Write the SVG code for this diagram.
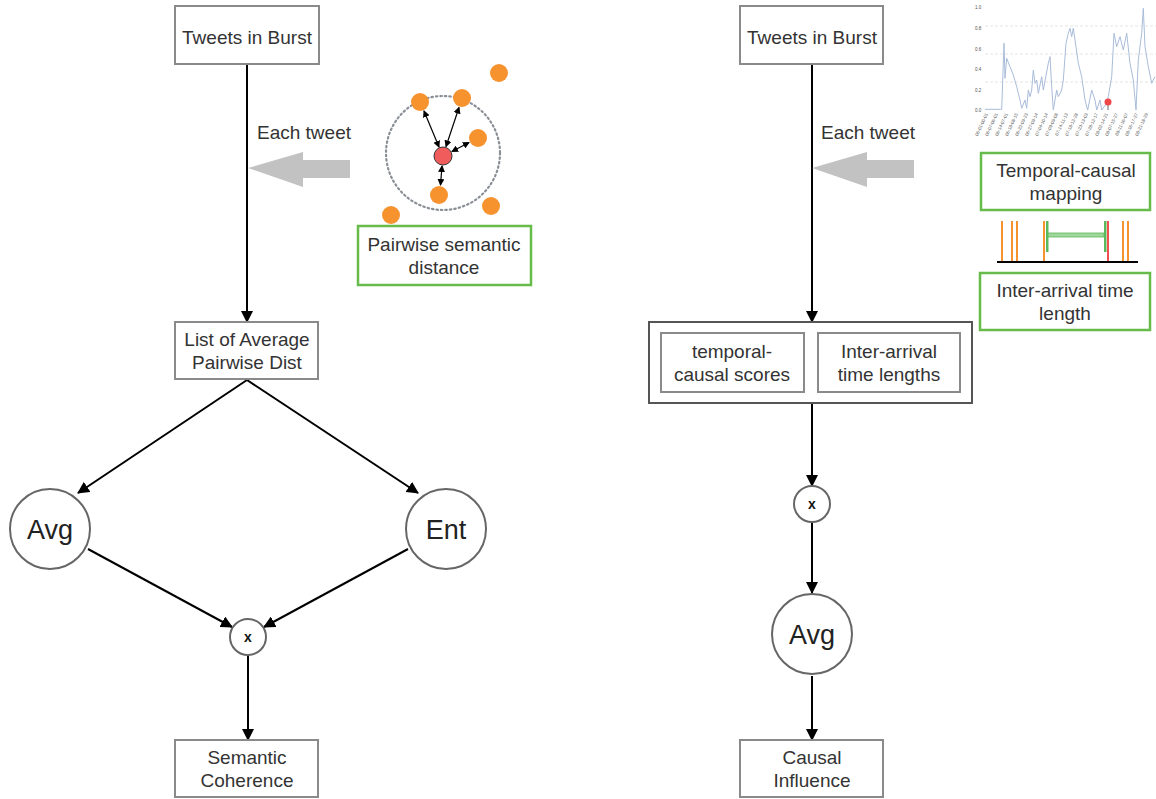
<svg xmlns="http://www.w3.org/2000/svg" width="1156" height="799" viewBox="0 0 1156 799">
<defs>
<style>
.t{font-family:"Liberation Sans",Arial,sans-serif;font-size:19px;fill:#333;text-anchor:middle}
.box{fill:#fff;stroke:#8a8a8a;stroke-width:2}
.gbox{fill:#fff;stroke:#66bb4a;stroke-width:2.5}
.circ{fill:#fff;stroke:#666;stroke-width:2}
.big{font-family:"Liberation Sans",Arial,sans-serif;font-size:27px;fill:#222;text-anchor:middle}
.xl{font-family:"Liberation Sans",Arial,sans-serif;font-size:14px;font-weight:bold;fill:#111;text-anchor:middle}
.conn{stroke:#000;stroke-width:2;fill:none;marker-end:url(#ah)}
.dot{fill:#f7932f}
.sm{stroke:#000;stroke-width:1.2;fill:none;marker-start:url(#sa);marker-end:url(#sa)}
.tick{font-family:"Liberation Sans",Arial,sans-serif;font-size:4.5px;fill:#555}
.grid{stroke:#ddd;stroke-width:0.8;stroke-dasharray:3 2}
</style>
<marker id="ah" markerWidth="12" markerHeight="12" refX="11" refY="6" orient="auto" markerUnits="userSpaceOnUse">
<path d="M0,0 L12,6 L0,12 z" fill="#000"/>
</marker>
<marker id="sa" markerWidth="7" markerHeight="7" refX="6" refY="3.5" orient="auto-start-reverse" markerUnits="userSpaceOnUse">
<path d="M0,0 L7,3.5 L0,7 z" fill="#000"/>
</marker>
</defs>
<rect width="1156" height="799" fill="#fff"/>

<g id="connectors">
<line class="conn" x1="247" y1="64" x2="247" y2="322"/>
<line class="conn" x1="247" y1="380" x2="78" y2="493"/>
<line class="conn" x1="247" y1="380" x2="418" y2="493"/>
<line class="conn" x1="88" y1="549" x2="232" y2="627"/>
<line class="conn" x1="408" y1="549" x2="264" y2="627"/>
<line class="conn" x1="248" y1="655" x2="248" y2="740"/>
<line class="conn" x1="812" y1="64" x2="812" y2="322"/>
<line class="conn" x1="812" y1="404" x2="812" y2="486"/>
<line class="conn" x1="812" y1="522" x2="812" y2="593"/>
<line class="conn" x1="812" y1="676" x2="812" y2="740"/>
</g>

<g id="left-feed">
<text class="t" x="304" y="139">Each tweet</text>
<polygon points="248,168 303,152 303,160 350,160 350,178 303,178 303,187" fill="#c2c2c2"/>
</g>
<g id="right-feed">
<text class="t" x="868" y="139">Each tweet</text>
<polygon points="812,168 867,152 867,160 914,160 914,178 867,178 867,187" fill="#c2c2c2"/>
</g>

<g id="tweets-left">
<rect class="box" x="175" y="6" width="144" height="58"/>
<text class="t" x="247" y="44">Tweets in Burst</text>
</g>
<g id="list-avg">
<rect class="box" x="175" y="322" width="143" height="57"/>
<text class="t" x="247" y="346">List of Average</text>
<text class="t" x="247" y="369">Pairwise Dist</text>
</g>
<g id="avg-left">
<circle class="circ" cx="50" cy="529" r="40"/>
<text class="big" x="50" y="539">Avg</text>
</g>
<g id="ent">
<circle class="circ" cx="446" cy="529" r="40"/>
<text class="big" x="446" y="539">Ent</text>
</g>
<g id="mult-left">
<circle class="circ" cx="248" cy="637" r="18"/>
<text class="xl" x="248" y="642">x</text>
</g>
<g id="semantic">
<rect class="box" x="175" y="740" width="143" height="57"/>
<text class="t" x="247" y="764">Semantic</text>
<text class="t" x="247" y="787">Coherence</text>
</g>

<g id="scatter">
<circle cx="443" cy="153" r="57" fill="none" stroke="#8a8f96" stroke-width="2.2" stroke-dasharray="1.5 3" stroke-linecap="round"/>
<circle class="dot" cx="499" cy="73" r="9"/>
<circle class="dot" cx="420" cy="102" r="9"/>
<circle class="dot" cx="462" cy="98" r="9"/>
<circle class="dot" cx="478" cy="138" r="9"/>
<circle class="dot" cx="439" cy="195" r="9"/>
<circle class="dot" cx="491" cy="206" r="9"/>
<circle class="dot" cx="391" cy="215" r="9"/>
<circle cx="443" cy="156" r="9" fill="#f05c5c" stroke="#333" stroke-width="1"/>
<line class="sm" x1="439" y1="147" x2="424" y2="111"/>
<line class="sm" x1="446" y1="146.5" x2="459" y2="107.5"/>
<line class="sm" x1="452" y1="151.5" x2="469" y2="142.5"/>
<line class="sm" x1="442" y1="166" x2="440.5" y2="185"/>
</g>
<g id="pairwise">
<rect class="gbox" x="358" y="226" width="173" height="59"/>
<text class="t" x="444" y="251">Pairwise semantic</text>
<text class="t" x="444" y="274">distance</text>
</g>

<g id="tweets-right">
<rect class="box" x="740" y="6" width="143" height="58"/>
<text class="t" x="812" y="44">Tweets in Burst</text>
</g>
<g id="scores">
<rect x="649" y="322" width="323" height="81" fill="#fff" stroke="#555" stroke-width="2"/>
<rect class="box" x="661" y="333" width="143" height="59"/>
<text class="t" x="732" y="358">temporal-</text>
<text class="t" x="732" y="381">causal scores</text>
<rect class="box" x="818" y="333" width="142" height="59"/>
<text class="t" x="889" y="358">Inter-arrival</text>
<text class="t" x="889" y="381">time lengths</text>
</g>
<g id="mult-right">
<circle class="circ" cx="812" cy="504" r="18"/>
<text class="xl" x="812" y="509">x</text>
</g>
<g id="avg-right">
<circle class="circ" cx="812" cy="634" r="40"/>
<text class="big" x="812" y="644">Avg</text>
</g>
<g id="causal">
<rect class="box" x="740" y="740" width="143" height="57"/>
<text class="t" x="812" y="764">Causal</text>
<text class="t" x="812" y="787">Influence</text>
</g>

<g id="chart">
<line class="grid" x1="985" y1="26" x2="1156" y2="26"/>
<line class="grid" x1="985" y1="54" x2="1156" y2="54"/>
<line class="grid" x1="985" y1="82" x2="1156" y2="82"/>
<text class="tick" x="975" y="9">1.0</text>
<text class="tick" x="975" y="30">0.8</text>
<text class="tick" x="975" y="51">0.6</text>
<text class="tick" x="975" y="71">0.4</text>
<text class="tick" x="975" y="92">0.2</text>
<text class="tick" x="975" y="112">0.0</text>
<polyline fill="none" stroke="#a9bcd9" stroke-width="1" points="985,109.3 1001.7,109.3 1004,43.3 1005,78.3 1006.7,58.3 1010,66.7 1013.3,75 1016.7,86.7 1020,100 1021.7,108.3 1025,100 1026.7,108.3 1028.3,90 1030,96.7 1031.7,90 1033.3,70 1035,83.3 1036.7,80 1038.3,93.3 1041.7,76.7 1043.3,90 1048.3,63.3 1050,56.7 1051.7,86.7 1053.3,110 1056.7,90 1058.3,96.7 1061.7,90 1063.3,80 1066,43.3 1068.3,33.3 1070,28.3 1071.7,36.7 1073.3,28.3 1075,40 1078.3,63.3 1081.7,76.7 1085,100 1087.7,110 1091.7,90 1095,100 1096.7,110 1100,100 1101.7,110 1106.7,103.3 1108.3,96.7 1111.7,76.7 1114,33.3 1116.7,46.7 1120,36.7 1123.3,50 1126.7,33.3 1130,63.3 1133.3,80 1136,110 1138.3,60 1141.7,33.3 1143.3,8.3 1145,46.7 1148.3,66.7 1151.7,83.3 1155,76.7"/>
<line x1="1108" y1="103" x2="1108" y2="110" stroke="#666" stroke-width="1"/>
<circle cx="1108" cy="102" r="3.5" fill="#f04848"/>
<g class="tick" text-anchor="end">
<text transform="translate(988,114) rotate(-65)">06-01-00-01</text>
<text transform="translate(998,114) rotate(-65)">06-07-06-01</text>
<text transform="translate(1008,114) rotate(-65)">06-14-07-01</text>
<text transform="translate(1018,114) rotate(-65)">06-18-08-15</text>
<text transform="translate(1028,114) rotate(-65)">06-22-09-23</text>
<text transform="translate(1038,114) rotate(-65)">06-27-09-14</text>
<text transform="translate(1048,114) rotate(-65)">07-04-10-14</text>
<text transform="translate(1058,114) rotate(-65)">07-09-09-08</text>
<text transform="translate(1068,114) rotate(-65)">07-14-11-13</text>
<text transform="translate(1078,114) rotate(-65)">07-18-12-28</text>
<text transform="translate(1088,114) rotate(-65)">07-23-13-03</text>
<text transform="translate(1098,114) rotate(-65)">07-28-12-17</text>
<text transform="translate(1108,114) rotate(-65)">08-02-14-21</text>
<text transform="translate(1118,114) rotate(-65)">08-07-15-27</text>
<text transform="translate(1128,114) rotate(-65)">08-11-16-07</text>
<text transform="translate(1138,114) rotate(-65)">08-16-17-27</text>
<text transform="translate(1148,114) rotate(-65)">08-21-18-29</text>
</g>
</g>

<g id="temporal-mapping">
<rect class="gbox" x="981" y="153" width="169" height="57"/>
<text class="t" x="1066" y="177">Temporal-causal</text>
<text class="t" x="1066" y="200">mapping</text>
</g>
<g id="timeline">
<g stroke="#f7932f" stroke-width="2">
<line x1="1002" y1="221" x2="1002" y2="262"/>
<line x1="1012" y1="221" x2="1012" y2="262"/>
<line x1="1017" y1="221" x2="1017" y2="262"/>
<line x1="1044" y1="221" x2="1044" y2="262"/>
<line x1="1123" y1="221" x2="1123" y2="262"/>
<line x1="1128" y1="221" x2="1128" y2="262"/>
</g>
<line x1="1108" y1="221" x2="1108" y2="262" stroke="#f05050" stroke-width="2"/>
<rect x="1047" y="233" width="57" height="4" fill="#9fd89a" stroke="#5cb85c" stroke-width="0.8"/>
<rect x="1046" y="221" width="2.5" height="31" fill="#5cb85c"/>
<rect x="1104" y="221" width="2.5" height="31" fill="#5cb85c"/>
<line x1="997" y1="262" x2="1138" y2="262" stroke="#000" stroke-width="2"/>
</g>
<g id="inter-arrival">
<rect class="gbox" x="980" y="273" width="170" height="57"/>
<text class="t" x="1065" y="297">Inter-arrival time</text>
<text class="t" x="1065" y="320">length</text>
</g>
</svg>
